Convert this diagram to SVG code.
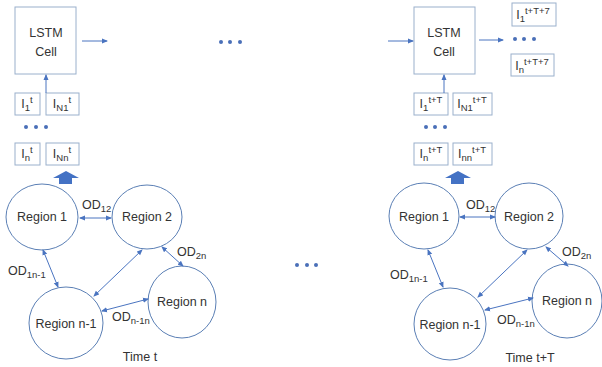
<svg xmlns="http://www.w3.org/2000/svg" width="602" height="367" viewBox="0 0 602 367">
<style>
.box{fill:#fff;stroke:#9AB0CC;stroke-width:1}
.ell{fill:#fff;stroke:#5B7FB5;stroke-width:1}
.t{font-family:"Liberation Sans",Arial,sans-serif;fill:#333;font-size:12.5px;text-anchor:middle}
.s{font-size:9.5px}
.l{text-anchor:start}
.c{stroke:#4A74C0;stroke-width:1;fill:none}
.d{stroke:#4A74C0;stroke-width:1;fill:none;marker-start:url(#ah);marker-end:url(#ah)}
.a{stroke:#4A74C0;stroke-width:1;fill:none;marker-end:url(#ah)}
.dot{fill:#4A6FB8}
.big{fill:#4472C4}
</style>
<defs>
<marker id="ah" markerUnits="userSpaceOnUse" markerWidth="6" markerHeight="6" refX="5" refY="3" orient="auto-start-reverse">
<path d="M0,0.5 L6,3 L0,5.5 z" fill="#4A74C0"/>
</marker>
</defs>

<g id="lstm-left">
<rect class="box" x="15" y="7" width="61" height="67"/>
<text class="t" x="46" y="37">LSTM</text>
<text class="t" x="46" y="56">Cell</text>
</g>
<g id="box-l-i1t"><rect class="box" x="15" y="93" width="25" height="22"/><text class="t" x="27" y="108">I<tspan class="s" dy="3">1</tspan><tspan class="s" dy="-8">t</tspan></text></g>
<g id="box-l-in1t"><rect class="box" x="46" y="93" width="33" height="22"/><text class="t" x="62" y="108">I<tspan class="s" dy="3">N1</tspan><tspan class="s" dy="-8">t</tspan></text></g>
<g id="box-l-int"><rect class="box" x="15" y="143" width="25" height="22"/><text class="t" x="27" y="158">I<tspan class="s" dy="3">n</tspan><tspan class="s" dy="-8">t</tspan></text></g>
<g id="box-l-innt"><rect class="box" x="46" y="143" width="33" height="22"/><text class="t" x="62" y="158">I<tspan class="s" dy="3">Nn</tspan><tspan class="s" dy="-8">t</tspan></text></g>
<g id="dots-l"><circle class="dot" cx="26" cy="127" r="2"/><circle class="dot" cx="36" cy="127" r="2"/><circle class="dot" cx="46" cy="127" r="2"/></g>
<g id="bigarrow-l"><polygon class="big" points="66,171 79,178 72,178 72,184 59,184 59,178 53,178"/></g>

<g id="region1-l"><ellipse class="ell" cx="42" cy="217" rx="36" ry="33"/><text class="t" x="42" y="221">Region 1</text></g>
<g id="region2-l"><ellipse class="ell" cx="147" cy="217" rx="35" ry="32"/><text class="t" x="147" y="221">Region 2</text></g>
<g id="regionn1-l"><ellipse class="ell" cx="66" cy="323" rx="37" ry="36"/><text class="t" x="66" y="328">Region n-1</text></g>
<g id="regionn-l"><ellipse class="ell" cx="182" cy="302" rx="34" ry="36"/><text class="t" x="182" y="306">Region n</text></g>

<g id="dots-mid-top"><circle class="dot" cx="221" cy="42" r="2"/><circle class="dot" cx="230" cy="42" r="2"/><circle class="dot" cx="240" cy="42" r="2"/></g>
<g id="dots-mid-bottom"><circle class="dot" cx="297" cy="265" r="2"/><circle class="dot" cx="307" cy="265" r="2"/><circle class="dot" cx="316" cy="265" r="2"/></g>

<g id="lstm-right">
<rect class="box" x="414" y="7" width="61" height="67"/>
<text class="t" x="444" y="37">LSTM</text>
<text class="t" x="444" y="56">Cell</text>
</g>
<g id="box-out-1"><rect class="box" x="512" y="3" width="44" height="23"/><text class="t" x="533" y="19">I<tspan class="s" dy="3">1</tspan><tspan class="s" dy="-8">t+T+7</tspan></text></g>
<g id="box-out-n"><rect class="box" x="511" y="54" width="43" height="22"/><text class="t" x="532" y="70">I<tspan class="s" dy="3">n</tspan><tspan class="s" dy="-8">t+T+7</tspan></text></g>
<g id="dots-out"><circle class="dot" cx="515" cy="39" r="2"/><circle class="dot" cx="524" cy="39" r="2"/><circle class="dot" cx="534" cy="39" r="2"/></g>
<g id="box-r-i1"><rect class="box" x="414" y="93" width="34" height="22"/><text class="t" x="431" y="108">I<tspan class="s" dy="3">1</tspan><tspan class="s" dy="-8">t+T</tspan></text></g>
<g id="box-r-in1"><rect class="box" x="453" y="93" width="39" height="22"/><text class="t" x="472" y="108">I<tspan class="s" dy="3">N1</tspan><tspan class="s" dy="-8">t+T</tspan></text></g>
<g id="box-r-in"><rect class="box" x="414" y="143" width="34" height="22"/><text class="t" x="431" y="158">I<tspan class="s" dy="3">n</tspan><tspan class="s" dy="-8">t+T</tspan></text></g>
<g id="box-r-inn"><rect class="box" x="453" y="143" width="39" height="22"/><text class="t" x="472" y="158">I<tspan class="s" dy="3">nn</tspan><tspan class="s" dy="-8">t+T</tspan></text></g>
<g id="dots-r"><circle class="dot" cx="426" cy="127" r="2"/><circle class="dot" cx="435" cy="127" r="2"/><circle class="dot" cx="445" cy="127" r="2"/></g>
<g id="bigarrow-r"><polygon class="big" points="458,171 471,178 464,178 464,184 451,184 451,178 445,178"/></g>

<g id="region1-r"><ellipse class="ell" cx="424" cy="216" rx="35" ry="33"/><text class="t" x="424" y="221">Region 1</text></g>
<g id="region2-r"><ellipse class="ell" cx="529" cy="216" rx="34" ry="33"/><text class="t" x="529" y="221">Region 2</text></g>
<g id="regionn1-r"><ellipse class="ell" cx="450" cy="324" rx="36" ry="36"/><text class="t" x="450" y="329">Region n-1</text></g>
<g id="regionn-r"><ellipse class="ell" cx="567" cy="301" rx="35" ry="37"/><text class="t" x="567" y="305">Region n</text></g>

<g id="connectors">
<line class="a" x1="82" y1="41" x2="107" y2="41"/>
<line class="a" x1="46" y1="93" x2="46" y2="75"/>
<line class="d" x1="80" y1="218" x2="111" y2="218"/>
<line class="d" x1="43" y1="250" x2="58" y2="287"/>
<line class="d" x1="142" y1="250" x2="94" y2="296"/>
<line class="d" x1="162" y1="247" x2="183" y2="266"/>
<line class="d" x1="102" y1="311" x2="148" y2="299"/>

<line class="a" x1="388" y1="41" x2="413" y2="41"/>
<line class="a" x1="479" y1="40" x2="503" y2="40"/>
<line class="a" x1="444" y1="93" x2="444" y2="75"/>
<line class="d" x1="460" y1="217" x2="495" y2="217"/>
<line class="d" x1="428" y1="250" x2="443" y2="287"/>
<line class="d" x1="527" y1="250" x2="478" y2="297"/>
<line class="d" x1="546" y1="247" x2="568" y2="266"/>
<line class="d" x1="485" y1="310" x2="533" y2="298"/>
</g>

<g id="labels">
<text class="t l" x="82" y="209">OD<tspan class="s" dy="3">12</tspan></text>
<text class="t l" x="8" y="275">OD<tspan class="s" dy="3">1n-1</tspan></text>
<text class="t l" x="112" y="321">OD<tspan class="s" dy="3">n-1n</tspan></text>
<text class="t l" x="177" y="256">OD<tspan class="s" dy="3">2n</tspan></text>
<text class="t" x="140" y="361">Time t</text>

<text class="t l" x="466" y="209">OD<tspan class="s" dy="3">12</tspan></text>
<text class="t l" x="390" y="279">OD<tspan class="s" dy="3">1n-1</tspan></text>
<text class="t l" x="497" y="324">OD<tspan class="s" dy="3">n-1n</tspan></text>
<text class="t l" x="562" y="256">OD<tspan class="s" dy="3">2n</tspan></text>
<text class="t" x="530" y="362">Time t+T</text>
</g>
</svg>
